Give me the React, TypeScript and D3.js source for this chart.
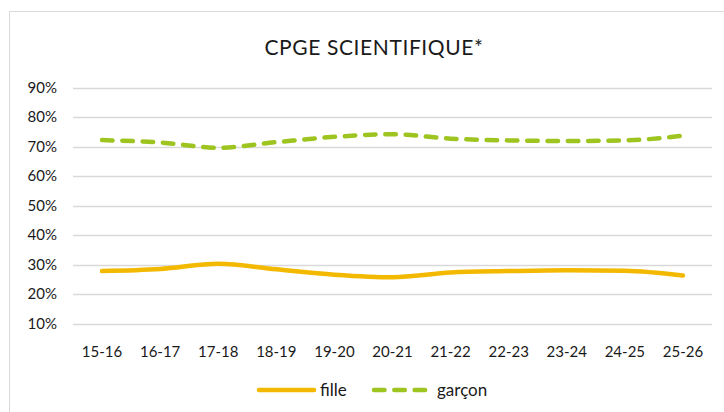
import React, { useEffect, useRef } from 'react';
import * as d3 from 'd3';

const categories = ['15-16', '16-17', '17-18', '18-19', '19-20', '20-21', '21-22', '22-23', '23-24', '24-25', '25-26'];
const filleValues = [0.278, 0.285, 0.303, 0.284, 0.266, 0.257, 0.273, 0.278, 0.281, 0.279, 0.263];
const garconValues = [0.723, 0.715, 0.697, 0.716, 0.734, 0.743, 0.728, 0.722, 0.720, 0.722, 0.738];
const yTicks = [0.1, 0.2, 0.3, 0.4, 0.5, 0.6, 0.7, 0.8, 0.9];

const FONT = 'Lato, "Open Sans", sans-serif';
const FILLE_COLOR = '#F3B900';
const GARCON_COLOR = '#9DC41F';

const App: React.FC = () => {
  const svgRef = useRef<SVGSVGElement>(null);
  const width = 724;
  const height = 412;

  useEffect(() => {
    if (!svgRef.current) return;
    const svg = d3.select(svgRef.current);
    svg.selectAll('*').remove();

    // chart frame
    svg.append('rect')
      .attr('x', 9.5).attr('y', 11.5)
      .attr('width', 730).attr('height', 420)
      .attr('fill', '#fff')
      .attr('stroke', '#d9d9d9')
      .attr('stroke-width', 1);

    const xScale = d3.scaleBand()
      .domain(categories)
      .range([73, 712]);

    const yScale = d3.scaleLinear()
      .domain([0.1, 0.9])
      .range([323.5, 88]);

    // title
    svg.append('text')
      .attr('x', 374)
      .attr('y', 55)
      .attr('text-anchor', 'middle')
      .style('font-family', FONT)
      .style('font-size', '21px')
      .style('letter-spacing', '0.6px')
      .style('fill', '#1a1a1a')
      .text('CPGE SCIENTIFIQUE*');

    // gridlines
    svg.append('g')
      .selectAll('line')
      .data(yTicks)
      .enter()
      .append('line')
      .attr('x1', 73).attr('x2', 712)
      .attr('y1', d => Math.round(yScale(d)) + 0.5)
      .attr('y2', d => Math.round(yScale(d)) + 0.5)
      .attr('stroke', '#d9d9d9')
      .attr('stroke-width', 1.3);

    // y labels
    svg.append('g')
      .selectAll('text')
      .data(yTicks)
      .enter()
      .append('text')
      .attr('x', 57)
      .attr('y', d => yScale(d) + 5)
      .attr('text-anchor', 'end')
      .style('font-family', FONT)
      .style('font-size', '15px')
      .style('fill', '#1a1a1a')
      .text(d => d3.format('.0%')(d));

    // x labels
    const cx = (c: string) => (xScale(c) || 0) + xScale.bandwidth() / 2;
    svg.append('g')
      .selectAll('text')
      .data(categories)
      .enter()
      .append('text')
      .attr('x', d => cx(d))
      .attr('y', 357)
      .attr('text-anchor', 'middle')
      .style('font-family', FONT)
      .style('font-size', '15px')
      .style('fill', '#1a1a1a')
      .text(d => d);

    const line = d3.line<number>()
      .x((_d, i) => cx(categories[i]))
      .y(d => yScale(d))
      .curve(d3.curveMonotoneX);

    svg.append('path')
      .attr('d', line(filleValues) || '')
      .attr('fill', 'none')
      .attr('stroke', FILLE_COLOR)
      .attr('stroke-width', 4.5)
      .attr('stroke-linecap', 'round')
      .attr('stroke-linejoin', 'round');

    svg.append('path')
      .attr('d', line(garconValues) || '')
      .attr('fill', 'none')
      .attr('stroke', GARCON_COLOR)
      .attr('stroke-width', 4.5)
      .attr('stroke-dasharray', '10.5,9.8')
      .attr('stroke-linecap', 'round')
      .attr('stroke-linejoin', 'round');

    // legend
    const legend = svg.append('g');
    legend.append('line')
      .attr('x1', 259).attr('x2', 314)
      .attr('y1', 390).attr('y2', 390)
      .attr('stroke', FILLE_COLOR)
      .attr('stroke-width', 4.5)
      .attr('stroke-linecap', 'round');
    legend.append('text')
      .attr('x', 320).attr('y', 396)
      .style('font-family', FONT)
      .style('font-size', '17px')
      .style('fill', '#1a1a1a')
      .text('fille');
    legend.append('line')
      .attr('x1', 374).attr('x2', 428)
      .attr('y1', 390).attr('y2', 390)
      .attr('stroke', GARCON_COLOR)
      .attr('stroke-width', 4.5)
      .attr('stroke-dasharray', '10.5,9.8')
      .attr('stroke-linecap', 'round');
    legend.append('text')
      .attr('x', 437).attr('y', 396)
      .style('font-family', FONT)
      .style('font-size', '17px')
      .style('fill', '#1a1a1a')
      .text('garçon');
  }, []);

  return (
    <svg
      ref={svgRef}
      width={width}
      height={height}
      style={{ position: 'absolute', left: 0, top: 0, display: 'block', background: '#fff' }}
    />
  );
};

export default App;
